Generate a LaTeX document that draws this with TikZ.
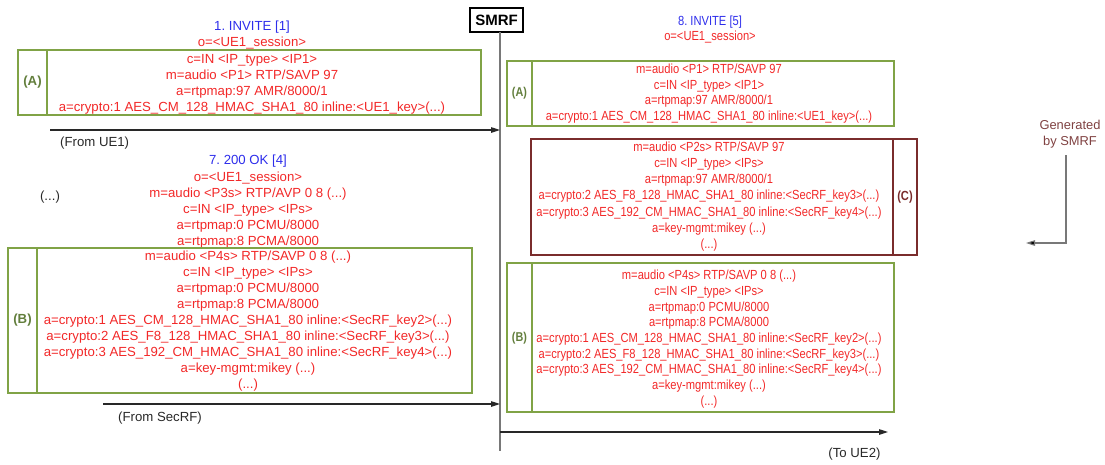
\documentclass[tikz,border=0pt]{standalone}
\usepackage{fontspec}
\setmainfont{Liberation Sans}
\newfontfamily\condfont[FakeStretch=0.845]{Liberation Sans}
\usetikzlibrary{arrows.meta}
\frenchspacing
\definecolor{sdpred}{RGB}{242,40,40}
\definecolor{msgblue}{RGB}{45,45,235}
\definecolor{boxgreen}{RGB}{128,163,70}
\definecolor{lblgreen}{RGB}{98,126,60}
\definecolor{boxbrown}{RGB}{122,44,44}
\definecolor{genbrown}{RGB}{128,66,66}
\definecolor{linegray}{RGB}{120,120,120}
\definecolor{msggray}{RGB}{40,40,40}
\begin{document}
\begin{tikzpicture}[x=1pt,y=-1pt,
  txt/.style={font=\fontsize{13.2}{16}\selectfont, inner sep=0pt, align=center},
  rtxt/.style={font=\condfont\fontsize{13.2}{15.8}\selectfont, inner sep=0pt, align=center},
  sdp/.style={txt, text=sdpred},
  rsdp/.style={rtxt, text=sdpred},
  msgtitle/.style={txt, text=msgblue},
  rmsgtitle/.style={rtxt, text=msgblue},
  plain/.style={txt, text=msggray},
  gbox/.style={draw=boxgreen, line width=2.3pt, outer sep=0pt, inner sep=0pt, anchor=north west},
  cbox/.style={draw=boxbrown, line width=2.3pt, outer sep=0pt, inner sep=0pt, anchor=north west},
  gdiv/.style={draw=boxgreen, line width=2.3pt},
  cdiv/.style={draw=boxbrown, line width=2.3pt},
  glbl/.style={font=\fontsize{13.2}{16}\selectfont\bfseries, text=lblgreen, inner sep=0pt},
  rglbl/.style={font=\condfont\fontsize{12.8}{16}\selectfont\bfseries, text=lblgreen, inner sep=0pt},
  clbl/.style={font=\condfont\fontsize{13.2}{16}\selectfont\bfseries, text=boxbrown, inner sep=0pt},
  msg/.style={draw=msggray, line width=1.1pt, -{Triangle[length=9pt,width=5.5pt]}},
  life/.style={draw=linegray, line width=1.4pt},
  genarrow/.style={draw=linegray, line width=1.1pt, -{Triangle[length=9pt,width=5.5pt,fill=black]}}
]
\useasboundingbox (0,0) rectangle (1105,464);

% SMRF and lifeline
\node[draw=black, line width=1.1pt, font=\fontsize{15}{16}\selectfont\bfseries,
      minimum width=53pt, minimum height=24pt, inner sep=0pt] (smrf) at (496.5,20) {SMRF};
\coordinate (lt) at (500,32);
\coordinate (lb) at (500,451);
\draw[life] (lt) -- (lb);

% ---------- left top: 1. INVITE ----------
\node[msgtitle] (t1) at (252,27) {1. INVITE [1]};
\node[sdp] (o1) at (252,43.5) {o=<UE1\_session>};
\node[gbox, minimum width=463pt, minimum height=65pt] (boxA1) at (18,50) {};
\draw[gdiv] ([xshift=29pt]boxA1.north west) -- ([xshift=29pt]boxA1.south west);
\node[glbl] (labA1) at (32.5,82.5) {(A)};
\node[sdp] (sdpA1) at (252,84.5) {c=IN <IP\_type> <IP1>\\m=audio <P1> RTP/SAVP 97\\a=rtpmap:97 AMR/8000/1\\a=crypto:1 AES\_CM\_128\_HMAC\_SHA1\_80 inline:<UE1\_key>(...)};

\coordinate (ue1) at (50,130);
\draw[msg] (ue1) -- (ue1 -| lt);
\node[plain, anchor=west] (fromue1) at (60,143) {(From UE1)};

% ---------- left middle: 7. 200 OK ----------
\node[msgtitle] (t7) at (248,161) {7. 200 OK [4]};
\node[sdp] (sdp7) at (248,210.5) {o=<UE1\_session>\\m=audio <P3s> RTP/AVP 0 8 (...)\\c=IN <IP\_type> <IPs>\\a=rtpmap:0 PCMU/8000\\a=rtpmap:8 PCMA/8000};
\node[plain] (dots) at (50,197) {(...)};

\node[gbox, minimum width=464pt, minimum height=145pt] (boxB1) at (8,248) {};
\draw[gdiv] ([xshift=29pt]boxB1.north west) -- ([xshift=29pt]boxB1.south west);
\node[glbl] (labB1) at (22.5,320) {(B)};
\node[sdp] (sdpB1) at (248,321) {m=audio <P4s> RTP/SAVP 0 8 (...)\\c=IN <IP\_type> <IPs>\\a=rtpmap:0 PCMU/8000\\a=rtpmap:8 PCMA/8000\\a=crypto:1 AES\_CM\_128\_HMAC\_SHA1\_80 inline:<SecRF\_key2>(...)\\a=crypto:2 AES\_F8\_128\_HMAC\_SHA1\_80 inline:<SecRF\_key3>(...)\\a=crypto:3 AES\_192\_CM\_HMAC\_SHA1\_80 inline:<SecRF\_key4>(...)\\a=key-mgmt:mikey (...)\\(...)};

\coordinate (secrf) at (103,404);
\draw[msg] (secrf) -- (secrf -| lt);
\node[plain, anchor=west] (fromsecrf) at (118,418) {(From SecRF)};

% ---------- right: 8. INVITE ----------
\node[rmsgtitle] (t8) at (710,22) {8. INVITE [5]};
\node[rsdp] (o8) at (710,37) {o=<UE1\_session>};

\node[gbox, minimum width=387pt, minimum height=65pt] (boxA2) at (507,61) {};
\draw[gdiv] ([xshift=25pt]boxA2.north west) -- ([xshift=25pt]boxA2.south west);
\node[rglbl] (labA2) at (519.5,93.5) {(A)};
\node[rsdp] (sdpA2) at (709,93.5) {m=audio <P1> RTP/SAVP 97\\c=IN <IP\_type> <IP1>\\a=rtpmap:97 AMR/8000/1\\a=crypto:1 AES\_CM\_128\_HMAC\_SHA1\_80 inline:<UE1\_key>(...)};

\node[cbox, minimum width=386pt, minimum height=116pt] (boxC) at (531,139) {};
\draw[cdiv] ([xshift=-24pt]boxC.north east) -- ([xshift=-24pt]boxC.south east);
\node[clbl] (labC) at (905,197) {(C)};
\node[rsdp, font=\condfont\fontsize{13.2}{16.1}\selectfont] (sdpC) at (709,196.5) {m=audio <P2s> RTP/SAVP 97\\c=IN <IP\_type> <IPs>\\a=rtpmap:97 AMR/8000/1\\a=crypto:2 AES\_F8\_128\_HMAC\_SHA1\_80 inline:<SecRF\_key3>(...)\\a=crypto:3 AES\_192\_CM\_HMAC\_SHA1\_80 inline:<SecRF\_key4>(...)\\a=key-mgmt:mikey (...)\\(...)};

\node[gbox, minimum width=387pt, minimum height=149pt] (boxB2) at (507,263) {};
\draw[gdiv] ([xshift=25pt]boxB2.north west) -- ([xshift=25pt]boxB2.south west);
\node[rglbl] (labB2) at (519.5,338) {(B)};
\node[rsdp, font=\condfont\fontsize{13.2}{15.65}\selectfont] (sdpB2) at (709,339) {m=audio <P4s> RTP/SAVP 0 8 (...)\\c=IN <IP\_type> <IPs>\\a=rtpmap:0 PCMU/8000\\a=rtpmap:8 PCMA/8000\\a=crypto:1 AES\_CM\_128\_HMAC\_SHA1\_80 inline:<SecRF\_key2>(...)\\a=crypto:2 AES\_F8\_128\_HMAC\_SHA1\_80 inline:<SecRF\_key3>(...)\\a=crypto:3 AES\_192\_CM\_HMAC\_SHA1\_80 inline:<SecRF\_key4>(...)\\a=key-mgmt:mikey (...)\\(...)};

% Generated by SMRF
\node[txt, text=genbrown, font=\fontsize{12.9}{16}\selectfont] (gen) at (1070,134) {Generated\\by SMRF};
\coordinate (g1) at (1066,155);
\coordinate (g2) at (1026,243);
\draw[genarrow] (g1) |- (g2);

% To UE2
\coordinate (ue2s) at (500,432);
\coordinate (ue2) at (888,432);
\draw[msg] (ue2s) -- (ue2);
\node[plain] (toue2) at (854.5,454) {(To UE2)};
\end{tikzpicture}
\end{document}
